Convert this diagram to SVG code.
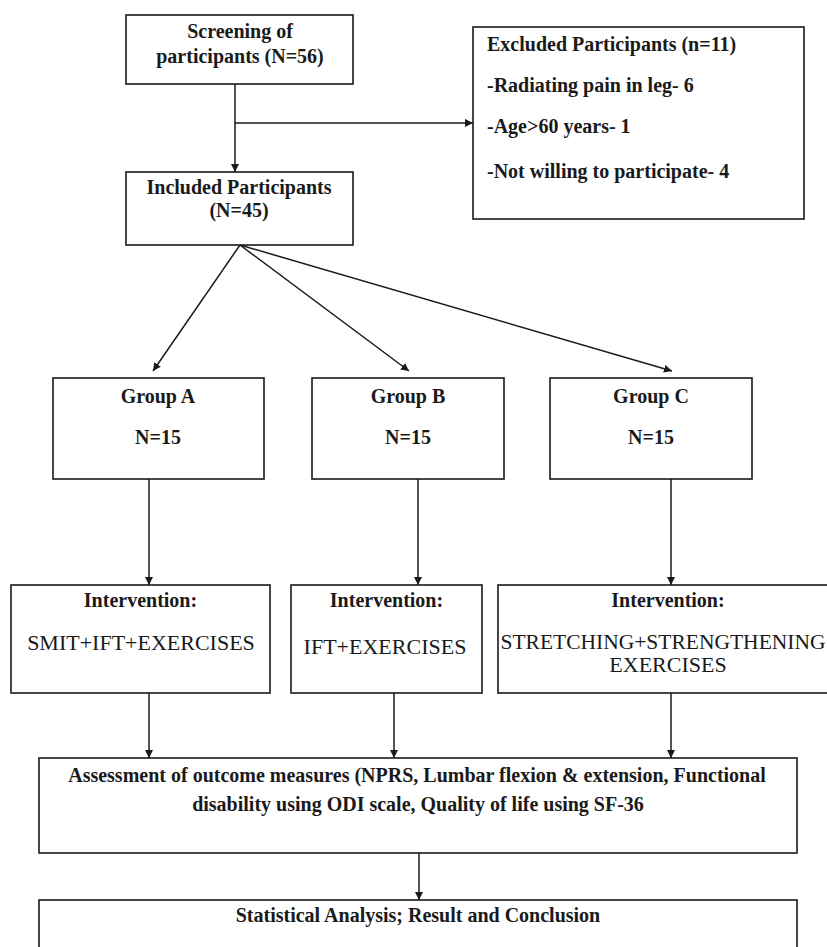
<svg xmlns="http://www.w3.org/2000/svg" width="827" height="947" viewBox="0 0 827 947">
<defs>
<marker id="ah" viewBox="0 0 10 10" refX="10" refY="5" markerWidth="8" markerHeight="8" markerUnits="userSpaceOnUse" orient="auto">
<path d="M0,0 L10,5 L0,10 z" fill="#1a1a1a"/>
</marker>
<style>
.box{fill:#fff;stroke:#1a1a1a;stroke-width:1.6}
.t{font-family:"Liberation Serif","Times New Roman",serif;font-size:20px;font-weight:bold;fill:#1a1a1a}
.c{text-anchor:middle}
.r{font-family:"Liberation Serif","Times New Roman",serif;font-size:22px;font-weight:normal;fill:#1a1a1a;text-anchor:middle}
.ln{stroke:#1a1a1a;stroke-width:1.5;fill:none}
.ar{marker-end:url(#ah)}
</style>
</defs>
<rect width="827" height="947" fill="#fff"/>
<g id="connectors">
<line class="ln ar" x1="235" y1="84" x2="235" y2="172"/>
<line class="ln ar" x1="235" y1="123" x2="473" y2="123"/>
<line class="ln ar" x1="240" y1="245" x2="153" y2="371"/>
<line class="ln ar" x1="240" y1="245" x2="409" y2="371"/>
<line class="ln ar" x1="240" y1="245" x2="672" y2="371"/>
<line class="ln ar" x1="149" y1="479" x2="149" y2="585"/>
<line class="ln ar" x1="418" y1="479" x2="418" y2="585"/>
<line class="ln ar" x1="671" y1="479" x2="671" y2="585"/>
<line class="ln ar" x1="149" y1="693" x2="149" y2="758"/>
<line class="ln ar" x1="394" y1="693" x2="394" y2="758"/>
<line class="ln ar" x1="671" y1="693" x2="671" y2="758"/>
<line class="ln ar" x1="419" y1="853" x2="419" y2="900"/>
</g>
<g id="screening">
<rect class="box" x="126" y="15" width="227" height="69"/>
<text class="t c" x="240" y="38">Screening of</text>
<text class="t c" x="240" y="63">participants (N=56)</text>
</g>
<g id="excluded">
<rect class="box" x="473" y="27" width="331" height="192"/>
<text class="t" x="487" y="51">Excluded Participants (n=11)</text>
<text class="t" x="487" y="92">-Radiating pain in leg- 6</text>
<text class="t" x="487" y="133">-Age&gt;60 years- 1</text>
<text class="t" x="487" y="178">-Not willing to participate- 4</text>
</g>
<g id="included">
<rect class="box" x="126" y="172" width="227" height="73"/>
<text class="t c" x="239" y="194">Included Participants</text>
<text class="t c" x="239" y="217">(N=45)</text>
</g>
<g id="groupA">
<rect class="box" x="53" y="378" width="211" height="101"/>
<text class="t c" x="158" y="403">Group A</text>
<text class="t c" x="158" y="444">N=15</text>
</g>
<g id="groupB">
<rect class="box" x="312" y="378" width="192" height="101"/>
<text class="t c" x="408" y="403">Group B</text>
<text class="t c" x="408" y="444">N=15</text>
</g>
<g id="groupC">
<rect class="box" x="550" y="378" width="202" height="101"/>
<text class="t c" x="651" y="403">Group C</text>
<text class="t c" x="651" y="444">N=15</text>
</g>
<g id="interventionA">
<rect class="box" x="11" y="585" width="259" height="108"/>
<text class="t c" x="140.5" y="607">Intervention:</text>
<text class="r" x="141" y="650">SMIT+IFT+EXERCISES</text>
</g>
<g id="interventionB">
<rect class="box" x="291" y="585" width="191" height="108"/>
<text class="t c" x="386.5" y="607">Intervention:</text>
<text class="r" x="385" y="654">IFT+EXERCISES</text>
</g>
<g id="interventionC">
<rect class="box" x="498" y="585" width="340" height="108"/>
<text class="t c" x="668" y="607">Intervention:</text>
<text class="r" x="663" y="649" style="font-size:21.5px">STRETCHING+STRENGTHENING</text>
<text class="r" x="668" y="672">EXERCISES</text>
</g>
<g id="assessment">
<rect class="box" x="39" y="758" width="758" height="95"/>
<text class="t c" x="417" y="782">Assessment of outcome measures (NPRS, Lumbar flexion &amp; extension, Functional</text>
<text class="t c" x="418" y="811">disability using ODI scale, Quality of life using SF-36</text>
</g>
<g id="statistical">
<rect class="box" x="39" y="900" width="758" height="60"/>
<text class="t c" x="418" y="922">Statistical Analysis; Result and Conclusion</text>
</g>
</svg>
